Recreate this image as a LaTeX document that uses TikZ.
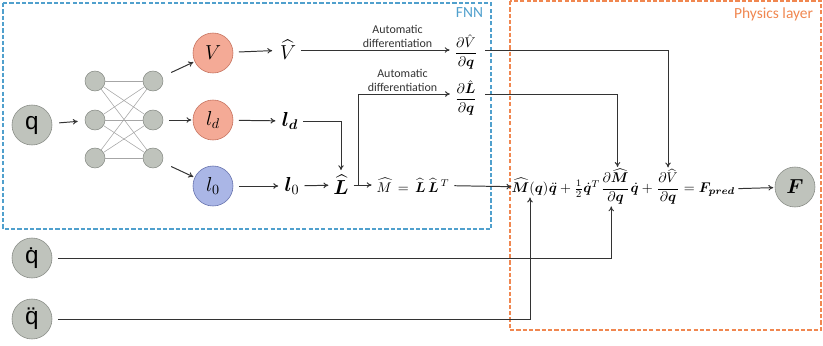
\documentclass[tikz,border=0pt]{standalone}
\usepackage{amsmath}
\usepackage{bm}
\usepackage{fontspec}
\newfontfamily\labelfont{Carlito}
\newfontfamily\inputfont{Liberation Sans}
\usetikzlibrary{positioning,calc,arrows.meta}
\definecolor{nodegray}{RGB}{191,195,188}
\definecolor{nodegrayline}{RGB}{135,139,133}
\definecolor{salmon}{RGB}{244,170,150}
\definecolor{salmonline}{RGB}{196,112,92}
\definecolor{lblue}{RGB}{170,182,230}
\definecolor{lblueline}{RGB}{98,110,170}
\definecolor{fnnblue}{RGB}{80,160,205}
\definecolor{physorange}{RGB}{240,135,80}
\tikzset{>={To[length=3.5pt,width=4pt]}}
\tikzstyle{inputnode} = [circle, draw=nodegrayline, fill=nodegray, minimum size=1cm, inner sep=0pt, font=\LARGE]
\tikzstyle{hidden} = [circle, draw=nodegrayline, fill=nodegray, minimum size=0.5cm, inner sep=0pt]
\tikzstyle{outnode} = [circle, minimum size=1cm, inner sep=0pt, font=\Large]
\tikzstyle{eqpart} = [inner xsep=0pt, inner ysep=1pt]
\tikzstyle{flow} = [->, line width=0.7pt, black!80]
\tikzstyle{netline} = [gray!70, line width=0.4pt]
\tikzstyle{autolabel} = [font=\labelfont\fontsize{8.5}{9.5}\selectfont, align=center, inner sep=1.5pt]

\begin{document}
\begin{tikzpicture}[x=0.025cm, y=-0.025cm]
				\useasboundingbox (0,0) rectangle (823,345);
				% dashed frames
				\draw[fnnblue, line width=0.8pt, dash pattern=on 3pt off 1.5pt] (3,3) rectangle (491,229);
				\draw[physorange, line width=0.8pt, dash pattern=on 3pt off 1.5pt] (510,1) rectangle (821,330);
				\node[anchor=north east, text=fnnblue, font=\labelfont\fontsize{11}{13}\selectfont] (fnnlabel) at (488,3) {FNN};
				\node[anchor=north east, text=physorange, font=\labelfont\fontsize{11}{13}\selectfont] (physlabel) at (818,3) {Physics layer};
				% inputs
				\node[inputnode] (q) at (32,125) {\inputfont q};
				\node[inputnode] (qd) at (32,258) {\inputfont \.{q}};
				\node[inputnode] (qdd) at (32,319) {\inputfont \"{q}};
				% network
				\foreach \y [count=\i] in {81,120,158}{
					\node[hidden] (ha\i) at (95,\y) {};
					\node[hidden] (hb\i) at (153,\y) {};
				}
				\foreach \i in {1,2,3}
					\foreach \j in {1,2,3}
						\draw[netline] (ha\i) -- (hb\j);
				\draw[flow, shorten <=5pt, shorten >=5pt] (q) -- (ha2);
				% network outputs
				\node[outnode, draw=salmonline, fill=salmon] (V) at (213,53) {$V$};
				\node[outnode, draw=salmonline, fill=salmon] (ld) at (213,120) {$l_d$};
				\node[outnode, draw=lblueline, fill=lblue] (lz) at (213,186) {$l_0$};
				\draw[flow, shorten <=7pt, shorten >=1pt] (hb1) -- (V);
				\draw[flow, shorten <=4pt, shorten >=1pt] (hb2) -- (ld);
				\draw[flow, shorten <=7pt, shorten >=1pt] (hb3) -- (lz);
				% labels after the network
				\node[font=\Large] (Vh) at (288,50) {$\widehat{V}$};
				\node[font=\Large] (ldt) at (290,121) {$\bm{l}_{\bm{d}}$};
				\node[font=\Large] (lzt) at (292,186) {$\bm{l}_{0}$};
				\node[font=\Large] (Lh) at (341,185) {$\widehat{\bm{L}}$};
				\node (Mh) at (413,185) {$\widehat{M}\,=\,\widehat{\bm{L}}\,\widehat{\bm{L}}^{\,T}$};
				\node (dV) at (466,52) {$\dfrac{\partial\hat{V}}{\partial\bm{q}}$};
				\node (dL) at (466,98) {$\dfrac{\partial\hat{\bm{L}}}{\partial\bm{q}}$};
				\draw[flow, shorten <=4pt, shorten >=2pt] (V) -- (Vh);
				\draw[flow, shorten <=4pt, shorten >=1pt] (ld) -- (ldt);
				\draw[flow, shorten <=4pt, shorten >=1pt] (lz) -- (lzt);
				\draw[flow] (ldt) -| (Lh);
				\draw[flow] (lzt) -- (Lh);
				\draw[flow] (Lh) -- (Mh);
				\coordinate (branch) at ($(Lh.east)+(5,0)$);
				\draw[flow] (Vh) -- node[autolabel, above, pos=0.65] {Automatic\\differentiation} (dV.west |- Vh);
				\draw[flow] (branch) |- node[autolabel, above, pos=0.74] {Automatic\\differentiation} ($(dL.west)+(0,-4)$);
				% physics equation
				\node[eqpart] (eqa) at (530,187) {$\widehat{\bm{M}}(\bm{q})$};
				\node[eqpart, anchor=base west] (eqb) at (eqa.base east) {$\ddot{\bm{q}}+\frac{1}{2}\dot{\bm{q}}^{T}$};
				\node[eqpart, anchor=base west] (eqc) at (eqb.base east) {$\dfrac{\partial\widehat{\bm{M}}}{\partial\bm{q}}$};
				\node[eqpart, anchor=base west] (eqd) at (eqc.base east) {$\dot{\bm{q}}+{}$};
				\node[eqpart, anchor=base west] (eqe) at (eqd.base east) {$\dfrac{\partial\widehat{V}}{\partial\bm{q}}$};
				\node[eqpart, anchor=base west] (eqf) at (eqe.base east) {${}=\bm{F}_{\bm{pred}}$};
				\node[inputnode, font=\Large] (F) at (795,187) {$\bm{F}$};
				\draw[flow] (Mh) -- (eqa);
				\draw[flow] ($(dV.east)+(3,-2)$) -| (eqe.north);
				\draw[flow] ($(dL.east)+(3,-4)$) -| ([xshift=1.5pt]eqc.north);
				\draw[flow, shorten <=4pt] (qd) -| ([xshift=-3pt]eqc.south);
				\draw[flow, shorten <=4pt] (qdd) -| (eqa.south);
				\draw[flow, shorten <=2pt, shorten >=1pt] (eqf) -- (F);
			\end{tikzpicture}
\end{document}
